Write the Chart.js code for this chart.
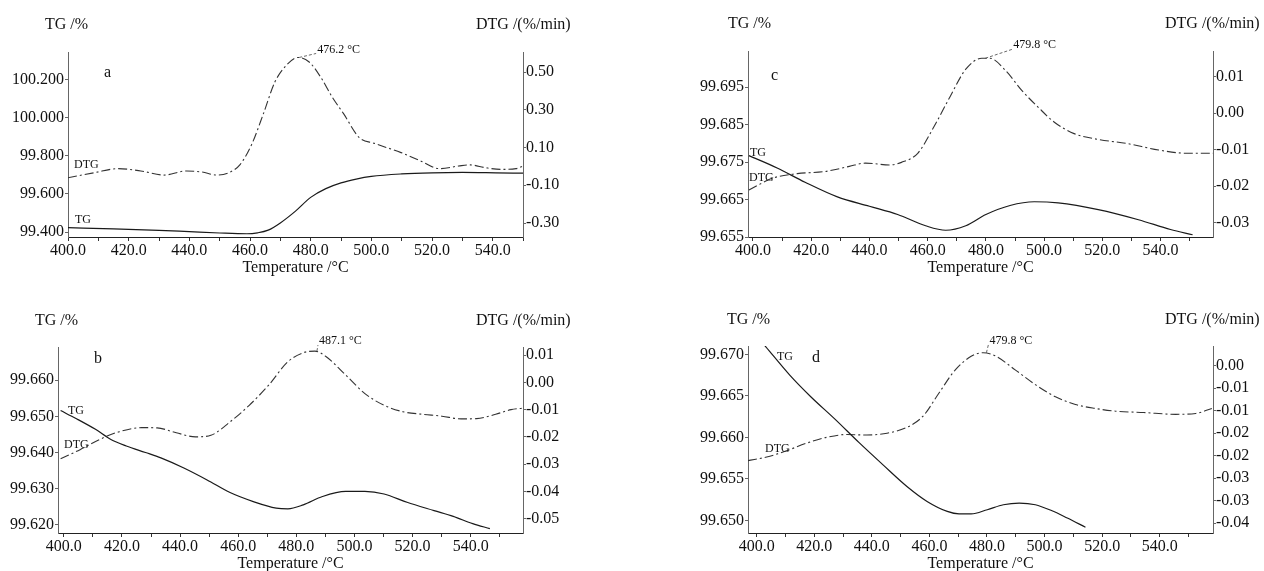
<!DOCTYPE html>
<html>
<head>
<meta charset="utf-8">
<script src="https://cdn.jsdelivr.net/npm/chart.js@4.4.0/dist/chart.umd.min.js"></script>
<style>
html, body { margin: 0; padding: 0; background: #fff; width: 1264px; height: 571px; overflow: hidden; position: relative; font-family: "Liberation Serif", "Times New Roman", serif; }
canvas { position: absolute; }
.t { position: absolute; white-space: nowrap; color: #111; line-height: 1; transform: translateY(-50%); }
.big { font-size: 16px; }
.small { font-size: 12px; }
</style>
</head>
<body>
<canvas id="chartA"></canvas>
<canvas id="chartB"></canvas>
<canvas id="chartC"></canvas>
<canvas id="chartD"></canvas>

<div class="t big" style="left:45px;top:24px">TG /%</div>
<div class="t big" style="left:476px;top:24px">DTG /(%/min)</div>
<div class="t big" style="left:104px;top:72px">a</div>
<div class="t small" style="left:74px;top:164px">DTG</div>
<div class="t small" style="left:75px;top:219px">TG</div>

<div class="t big" style="left:35px;top:320px">TG /%</div>
<div class="t big" style="left:476px;top:320px">DTG /(%/min)</div>
<div class="t big" style="left:94px;top:358px">b</div>
<div class="t small" style="left:68px;top:410px">TG</div>
<div class="t small" style="left:64px;top:444px">DTG</div>

<div class="t big" style="left:728px;top:23px">TG /%</div>
<div class="t big" style="left:1165px;top:23px">DTG /(%/min)</div>
<div class="t big" style="left:771px;top:75px">c</div>
<div class="t small" style="left:750px;top:152px">TG</div>
<div class="t small" style="left:749px;top:177px">DTG</div>

<div class="t big" style="left:727px;top:319px">TG /%</div>
<div class="t big" style="left:1165px;top:319px">DTG /(%/min)</div>
<div class="t big" style="left:812px;top:357px">d</div>
<div class="t small" style="left:777px;top:356px">TG</div>
<div class="t small" style="left:765px;top:448px">DTG</div>

<script>
const FONT = '"Liberation Serif", "Times New Roman", serif';

// ---- panel a ----
const tgTempA = [400, 415, 430, 440, 450, 459, 462.5, 466, 470, 475, 480, 485, 490, 495, 500, 510, 520, 530, 541, 550];
const tgA = [99.423, 99.417, 99.409, 99.402, 99.395, 99.391, 99.396, 99.410, 99.448, 99.510, 99.582, 99.628, 99.658, 99.678, 99.692, 99.705, 99.711, 99.713, 99.711, 99.709];
const dtgTempA = [400, 408.8, 416.4, 424, 431.6, 439.1, 444.2, 449.2, 453, 456.8, 460.6, 464.4, 468.2, 472, 475.8, 479.5, 483.3, 487.1, 490.9, 496, 501, 509.8, 516.2, 522.5, 528.8, 532.6, 537.6, 542.7, 547.7, 550];
const dtgA = [-0.060, -0.033, -0.012, -0.024, -0.046, -0.024, -0.030, -0.046, -0.033, 0.011, 0.118, 0.278, 0.447, 0.536, 0.577, 0.553, 0.473, 0.367, 0.278, 0.153, 0.122, 0.073, 0.029, -0.012, 0.002, 0.008, -0.007, -0.016, -0.012, 0.002];
const tgTicksA = [99.4, 99.6, 99.8, 100.0, 100.2];
const dtgTicksA = [-0.3, -0.1, 0.1, 0.3, 0.5];

// ---- panel b ----
const tgTempB = [398.9, 404.2, 410.9, 416.2, 421.5, 428.1, 433.4, 441.3, 449.3, 457.2, 465.2, 473.1, 477.1, 482.4, 489, 497, 503.6, 510.2, 518.1, 527.4, 534, 540.7, 546.6];
const tgB = [99.6516, 99.6494, 99.6464, 99.6436, 99.6418, 99.6400, 99.6385, 99.6357, 99.6324, 99.6289, 99.6264, 99.6246, 99.6244, 99.6255, 99.6278, 99.6292, 99.6292, 99.6285, 99.6262, 99.6239, 99.6223, 99.6203, 99.6189];
const dtgTempB = [398.9, 405.6, 412.2, 418.8, 426.8, 432.1, 438.7, 445.3, 450.6, 457.2, 463.8, 470.5, 477.1, 482.4, 486.4, 490.3, 497, 503.6, 510.2, 516.8, 523.4, 530.1, 536.7, 542, 548.6, 553.9, 558.9];
const dtgB = [-0.0280, -0.0247, -0.0210, -0.0182, -0.0166, -0.0167, -0.0185, -0.0200, -0.0194, -0.0145, -0.0084, -0.0010, 0.0076, 0.0109, 0.0115, 0.0094, 0.0027, -0.0041, -0.0084, -0.0108, -0.0117, -0.0124, -0.0134, -0.0133, -0.0117, -0.0100, -0.0094];
const tgTicksB = [99.62, 99.63, 99.64, 99.65, 99.66];
const dtgTicksB = [-0.05, -0.04, -0.03, -0.02, -0.01, 0, 0.01];

// ---- panel c ----
const tgTempC = [398.6, 408.3, 417.9, 429, 440, 449.7, 459.3, 466.2, 473.1, 480, 488.3, 496.6, 504.8, 518.6, 532.4, 543.4, 551];
const tgC = [99.6767, 99.6734, 99.6696, 99.6657, 99.6632, 99.6610, 99.6580, 99.6568, 99.6580, 99.6610, 99.6634, 99.6644, 99.6641, 99.6623, 99.6596, 99.6570, 99.6556];
const dtgTempC = [398.6, 406.9, 415.2, 424.8, 433.1, 438.6, 446.9, 451, 456.6, 462.1, 467.6, 473.1, 478.6, 481.4, 486.9, 492.4, 497.9, 503.4, 510.3, 518.6, 528.3, 539.3, 549, 558];
const dtgC = [-0.0211, -0.0178, -0.0166, -0.0160, -0.0146, -0.0137, -0.0142, -0.0135, -0.0110, -0.0038, 0.0044, 0.0121, 0.0151, 0.0151, 0.0116, 0.0062, 0.0017, -0.0024, -0.0056, -0.0072, -0.0083, -0.0101, -0.0110, -0.0110];
const tgTicksC = [99.655, 99.665, 99.675, 99.685, 99.695];
const dtgTicksC = [-0.03, -0.02, -0.01, 0, 0.01];

// ---- panel d ----
const tgTempD = [400, 403.2, 411.5, 418.8, 427.2, 435.5, 443.9, 452.2, 459.2, 466.2, 470.3, 474.5, 480.1, 485.7, 491.2, 496.8, 502.4, 507.9, 514.2];
const tgD = [99.6722, 99.6709, 99.6675, 99.6649, 99.6622, 99.6594, 99.6567, 99.6541, 99.6523, 99.6511, 99.6508, 99.6508, 99.6513, 99.6519, 99.6521, 99.6519, 99.6512, 99.6503, 99.6492];
const dtgTempD = [397, 403.5, 410.4, 417.4, 424.4, 431.3, 438.3, 445.3, 452.2, 457.8, 463.4, 469, 474.5, 478.7, 482.9, 489.8, 496.8, 503.8, 510.7, 517.7, 524.7, 534.4, 545.6, 552.5, 558.1];
const dtgD = [-0.0211, -0.0203, -0.0189, -0.0172, -0.0159, -0.0153, -0.0154, -0.0150, -0.0137, -0.0112, -0.0060, -0.0009, 0.0021, 0.0029, 0.0022, -0.0009, -0.0042, -0.0069, -0.0086, -0.0095, -0.0101, -0.0104, -0.0108, -0.0106, -0.0095];
const tgTicksD = [99.65, 99.655, 99.66, 99.665, 99.67];
const dtgTicksD = [-0.035, -0.03, -0.025, -0.02, -0.015, -0.01, -0.005, 0];
const dtgLabelsD = ['-0.04', '-0.03', '-0.03', '-0.02', '-0.02', '-0.01', '-0.01', '0.00'];

const xTicks = [400, 410, 420, 430, 440, 450, 460, 470, 480, 490, 500, 510, 520, 530, 540, 550];
const peakTemps = [476.2, 487.1, 479.8, 479.8]; // a, b, c, d

function pts(xs, ys) {
    return xs.map((x, i) => ({ x: x, y: ys[i] }));
}

// peak label with a short leader line
const peakLabel = {
    id: 'peakLabel',
    afterDatasetsDraw(chart, args, opts) {
        const ctx = chart.ctx;
        const px = chart.scales.x.getPixelForValue(opts.temp);
        const py = chart.scales.y1.getPixelForValue(Math.max(...opts.values));
        const tx = px + opts.dx, ty = py + opts.dy;
        ctx.save();
        ctx.strokeStyle = '#444';
        ctx.lineWidth = 0.8;
        ctx.setLineDash([3, 2]);
        ctx.beginPath();
        ctx.moveTo(px, py);
        ctx.lineTo(tx - 1, ty + 4);
        ctx.stroke();
        ctx.fillStyle = '#111';
        ctx.font = '12px ' + FONT;
        ctx.textBaseline = 'middle';
        ctx.textAlign = 'left';
        ctx.fillText(opts.temp.toFixed(1) + ' \u00B0C', tx, ty);
        ctx.restore();
    }
};

function makePanel(p) {
    const cv = document.getElementById(p.id);
    cv.width = 632;
    cv.height = p.area.bottom + 40;
    cv.style.left = p.left + 'px';
    cv.style.top = p.top + 'px';
    cv.style.width = '632px';
    cv.style.height = cv.height + 'px';

    const fixTicks = (values) => (scale) => { scale.ticks = values.map(v => ({ value: v })); };

    new Chart(cv, {
        type: 'line',
        data: {
            datasets: [
                {
                    label: 'TG',
                    data: pts(p.tgT, p.tg),
                    yAxisID: 'y',
                    borderColor: '#1a1a1a',
                    borderWidth: 1.2,
                    pointRadius: 0,
                    cubicInterpolationMode: 'monotone'
                },
                {
                    label: 'DTG',
                    data: pts(p.dtgT, p.dtg),
                    yAxisID: 'y1',
                    borderColor: '#333',
                    borderWidth: 1.1,
                    borderDash: [9, 3, 2, 3],
                    pointRadius: 0,
                    cubicInterpolationMode: 'monotone'
                }
            ]
        },
        options: {
            responsive: false,
            animation: false,
            events: [],
            layout: { padding: { top: p.area.top, left: 0, right: 0, bottom: 0 } },
            plugins: {
                legend: { display: false },
                tooltip: { enabled: false },
                peakLabel: { temp: p.peak, values: p.dtg, dx: p.peakOff[0], dy: p.peakOff[1] }
            },
            scales: {
                x: {
                    type: 'linear',
                    min: p.xMin, max: p.xMax,
                    afterBuildTicks: fixTicks(xTicks),
                    afterFit: s => { s.height = 40; },
                    grid: { drawOnChartArea: false, tickLength: 4, tickColor: '#333' },
                    border: { color: '#222', width: 1 },
                    ticks: {
                        autoSkip: false, maxRotation: 0, padding: 0,
                        color: '#111', font: { family: FONT, size: 16 },
                        callback: v => (v % 20 === 0 && v <= 540) ? v.toFixed(1) : ''
                    },
                    title: {
                        display: true, text: 'Temperature /\u00B0C', color: '#111',
                        font: { family: FONT, size: 16 }, padding: 0
                    }
                },
                y: {
                    position: 'left',
                    min: p.tgMin, max: p.tgMax,
                    afterBuildTicks: fixTicks(p.tgTicks),
                    afterFit: s => { s.width = p.area.left; },
                    grid: { drawOnChartArea: false, tickLength: 3, tickColor: '#666' },
                    border: { color: '#666', width: 1 },
                    ticks: {
                        autoSkip: false, padding: 1,
                        color: '#111', font: { family: FONT, size: 16 },
                        callback: v => v.toFixed(p.tgDec)
                    }
                },
                y1: {
                    position: 'right',
                    min: p.dtgMin, max: p.dtgMax,
                    afterBuildTicks: fixTicks(p.dtgTicks),
                    afterFit: s => { s.width = 632 - p.area.right; },
                    grid: { drawOnChartArea: false, tickLength: 3, tickColor: '#666' },
                    border: { color: '#666', width: 1 },
                    ticks: {
                        autoSkip: false, padding: 0,
                        color: '#111', font: { family: FONT, size: 16 },
                        callback: (v, i) => p.dtgLabels ? p.dtgLabels[i] : v.toFixed(2)
                    }
                }
            }
        },
        plugins: [peakLabel]
    });
}

makePanel({
    id: 'chartA', left: 0, top: 0,
    area: { left: 68, right: 523, top: 52, bottom: 237 },
    xMin: 400, xMax: 550,
    tgT: tgTempA, tg: tgA, dtgT: dtgTempA, dtg: dtgA,
    tgMin: 99.374, tgMax: 100.345, tgTicks: tgTicksA, tgDec: 3,
    dtgMin: -0.374, dtgMax: 0.606, dtgTicks: dtgTicksA,
    peak: peakTemps[0], peakOff: [18, -8]
});

makePanel({
    id: 'chartB', left: 0, top: 290,
    area: { left: 58, right: 523, top: 57, bottom: 243 },
    xMin: 398, xMax: 558,
    tgT: tgTempB, tg: tgB, dtgT: dtgTempB, dtg: dtgB,
    tgMin: 99.6177, tgMax: 99.6692, tgTicks: tgTicksB, tgDec: 3,
    dtgMin: -0.0553, dtgMax: 0.013, dtgTicks: dtgTicksB,
    peak: peakTemps[1], peakOff: [2, -10]
});

makePanel({
    id: 'chartC', left: 632, top: 0,
    area: { left: 116, right: 581, top: 51, bottom: 237 },
    xMin: 398.3, xMax: 558,
    tgT: tgTempC, tg: tgC, dtgT: dtgTempC, dtg: dtgC,
    tgMin: 99.655, tgMax: 99.7046, tgTicks: tgTicksC, tgDec: 3,
    dtgMin: -0.034, dtgMax: 0.0171, dtgTicks: dtgTicksC,
    peak: peakTemps[2], peakOff: [28, -13]
});

makePanel({
    id: 'chartD', left: 632, top: 290,
    area: { left: 116, right: 581, top: 56, bottom: 243 },
    xMin: 397, xMax: 558.5,
    tgT: tgTempD, tg: tgD, dtgT: dtgTempD, dtg: dtgD,
    tgMin: 99.6485, tgMax: 99.671, tgTicks: tgTicksD, tgDec: 3,
    dtgMin: -0.0372, dtgMax: 0.0044, dtgTicks: dtgTicksD, dtgLabels: dtgLabelsD,
    peak: peakTemps[3], peakOff: [3, -12]
});
</script>
</body>
</html>
